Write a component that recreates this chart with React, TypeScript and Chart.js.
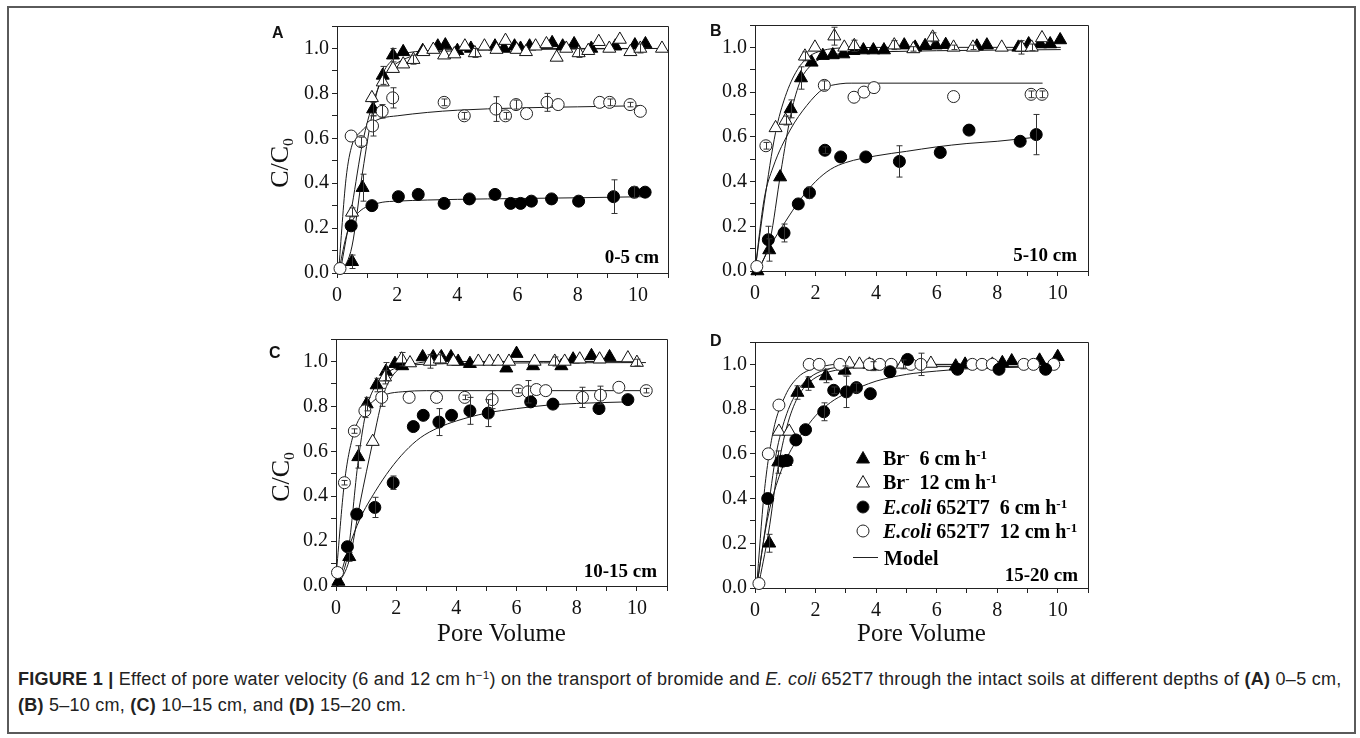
import React, { useEffect, useRef } from 'react';
import { Chart, registerables } from 'chart.js';

Chart.register(...registerables);

// ---------------- DATA ----------------
// Panel A (0-5 cm)
const A_br6_x = [0.5, 0.85, 1.2, 1.52, 1.86, 2.2, 2.85, 3.35, 3.6, 4.0, 4.45, 5.25, 5.55, 5.9, 6.1, 6.4, 7.15, 7.5, 7.88, 8.45, 9.25, 9.9, 10.25];
const A_br6_y = [0.05, 0.38, 0.73, 0.88, 0.97, 0.985, 0.99, 1.01, 1.015, 0.99, 1.0, 1.01, 1.0, 1.01, 1.0, 1.01, 1.025, 1.01, 1.02, 1.0, 1.01, 1.015, 1.02];
const A_br6_e = [0.03, 0.06, 0.03, 0.04, 0.03];
const A_br12_x = [0.5, 1.16, 1.52, 1.86, 2.2, 2.54, 2.87, 3.2, 3.56, 3.9, 4.25, 4.58, 4.9, 5.3, 5.6, 5.97, 6.28, 6.6, 6.96, 7.3, 7.62, 8.03, 8.35, 8.7, 9.05, 9.4, 9.75, 10.08, 10.8];
const A_br12_y = [0.27, 0.78, 0.85, 0.91, 0.93, 0.95, 0.985, 0.995, 0.97, 0.975, 1.01, 0.98, 1.01, 0.995, 1.035, 0.995, 0.985, 1.01, 1.02, 0.96, 1.0, 0.98, 0.99, 1.03, 1.0, 1.04, 0.985, 1.0, 1.0];
const A_br12_e = [0.02, 0, 0, 0, 0, 0.02, 0, 0, 0, 0, 0, 0.02, 0, 0, 0, 0, 0, 0, 0, 0, 0, 0.02, 0, 0, 0, 0, 0, 0.02, 0];
const A_ec12_x = [0.1, 0.47, 0.8, 1.18, 1.5, 1.85, 3.56, 4.23, 5.28, 5.6, 5.95, 6.3, 6.98, 7.35, 8.73, 9.06, 9.74, 10.08];
const A_ec12_y = [0.02, 0.61, 0.585, 0.655, 0.72, 0.78, 0.76, 0.7, 0.73, 0.7, 0.75, 0.71, 0.76, 0.75, 0.76, 0.76, 0.75, 0.72];
const A_ec12_e = [0, 0, 0.02, 0.045, 0.03, 0.045, 0.015, 0.015, 0.055, 0.015, 0.02, 0, 0.04, 0, 0, 0.015, 0.01, 0];
const A_ec6_x = [0.47, 1.16, 2.04, 2.7, 3.56, 4.4, 5.25, 5.77, 6.1, 6.46, 7.13, 8.03, 9.19, 9.88, 10.24];
const A_ec6_y = [0.21, 0.3, 0.34, 0.35, 0.31, 0.33, 0.35, 0.31, 0.31, 0.32, 0.33, 0.32, 0.34, 0.36, 0.36];
const A_ec6_e = [0, 0, 0, 0, 0, 0, 0, 0, 0, 0, 0, 0, 0.075, 0.025, 0];
const A_mBr6_x = [0.15, 0.5, 0.85, 1.2, 1.5, 1.85, 2.2, 3, 4, 6, 10.8];
const A_mBr6_y = [0, 0.12, 0.45, 0.73, 0.88, 0.95, 0.975, 0.99, 0.995, 1.0, 1.0];
const A_mBr12_x = [0.1, 0.5, 0.85, 1.2, 1.5, 1.85, 2.2, 2.6, 3, 4, 6, 10.8];
const A_mBr12_y = [0, 0.3, 0.58, 0.76, 0.86, 0.92, 0.95, 0.97, 0.98, 0.99, 0.995, 1.0];
const A_mEc12_x = [0.05, 0.3, 0.5, 0.8, 1.1, 1.5, 2, 3, 4, 6, 8, 10.1];
const A_mEc12_y = [0, 0.42, 0.57, 0.63, 0.665, 0.69, 0.7, 0.715, 0.725, 0.735, 0.74, 0.745];
const A_mEc6_x = [0.05, 0.3, 0.5, 0.8, 1.1, 1.5, 2, 3, 5, 8, 10.3];
const A_mEc6_y = [0, 0.16, 0.23, 0.28, 0.3, 0.315, 0.32, 0.325, 0.33, 0.335, 0.34];

// Panel B (5-10 cm)
const B_br6_x = [0.08, 0.47, 0.83, 1.18, 1.52, 1.87, 2.24, 2.57, 2.92, 3.25, 3.58, 3.91, 4.26, 4.93, 5.29, 5.62, 5.97, 6.3, 7.33, 7.66, 8.7, 9.04, 9.42, 9.75, 10.08];
const B_br6_y = [0, 0.094, 0.42, 0.725, 0.863, 0.933, 0.963, 0.966, 0.97, 0.985, 0.988, 0.988, 0.988, 1.01, 1.0, 1.007, 1.01, 1.012, 1.005, 1.01, 1.0, 1.015, 1.015, 1.015, 1.033];
const B_br6_e = [0, 0.05, 0, 0.04, 0.05];
const B_br12_x = [0.68, 1.01, 1.65, 1.98, 2.62, 2.95, 3.28, 4.6, 5.23, 5.87, 6.56, 7.2, 8.15, 8.8, 9.14, 9.48];
const B_br12_y = [0.64, 0.673, 0.96, 1.0, 1.05, 1.0, 1.007, 1.01, 0.993, 1.045, 1.0, 1.0, 1.0, 1.0, 1.0, 1.042];
const B_br12_e = [0, 0.02, 0.02, 0, 0.04, 0, 0.025, 0.02, 0.01, 0.02, 0.01, 0.01, 0, 0.03, 0.015, 0];
const B_ec12_x = [0.06, 0.36, 2.29, 3.27, 3.6, 3.93, 6.56, 9.12, 9.48];
const B_ec12_y = [0.02, 0.56, 0.83, 0.777, 0.8, 0.82, 0.78, 0.79, 0.79];
const B_ec12_e = [0, 0.015, 0.02, 0, 0, 0, 0, 0.015, 0.015];
const B_ec6_x = [0.44, 0.96, 1.43, 1.8, 2.31, 2.83, 3.66, 4.77, 6.12, 7.07, 8.76, 9.29];
const B_ec6_y = [0.14, 0.17, 0.3, 0.35, 0.54, 0.51, 0.51, 0.49, 0.53, 0.63, 0.58, 0.61];
const B_ec6_e = [0.06, 0.04, 0, 0.025, 0.015, 0, 0, 0.07, 0, 0, 0, 0.09];
const B_mBr6_x = [0.1, 0.5, 0.85, 1.2, 1.5, 1.85, 2.2, 3, 4, 6, 10.1];
const B_mBr6_y = [0, 0.14, 0.44, 0.71, 0.85, 0.92, 0.95, 0.975, 0.98, 0.985, 0.99];
const B_mBr12_x = [0, 0.3, 0.68, 1.0, 1.4, 1.8, 2.2, 3, 5, 10.1];
const B_mBr12_y = [0, 0.3, 0.62, 0.78, 0.9, 0.96, 0.985, 0.998, 1.0, 1.0];
const B_mEc12_x = [0, 0.3, 0.6, 1.16, 1.71, 2.26, 2.81, 3.2, 9.5];
const B_mEc12_y = [0, 0.32, 0.465, 0.63, 0.74, 0.815, 0.837, 0.84, 0.84];
const B_mEc6_x = [0.1, 0.5, 1, 1.5, 2, 2.5, 3, 4, 5, 6, 7, 8, 9.4];
const B_mEc6_y = [0, 0.11, 0.22, 0.32, 0.4, 0.455, 0.485, 0.515, 0.535, 0.555, 0.57, 0.58, 0.6];

// Panel C (10-15 cm)
const C_br6_x = [0.08, 0.44, 0.74, 1.02, 1.35, 1.66, 1.96, 2.2, 2.88, 3.23, 3.5, 3.82, 4.06, 4.45, 5.66, 6.0, 6.55, 7.49, 7.88, 8.49, 9.09];
const C_br6_y = [0.02, 0.13, 0.575, 0.81, 0.895, 0.955, 0.99, 0.98, 1.02, 1.02, 1.02, 1.02, 1.0, 0.99, 0.97, 1.035, 0.98, 0.98, 1.01, 1.025, 1.02];
const C_br6_e = [0, 0.02, 0.05, 0.03, 0.03, 0.04];
const C_br12_x = [1.22, 1.63, 2.18, 2.46, 3.12, 3.45, 3.9, 4.73, 5.1, 5.39, 5.75, 6.6, 7.27, 7.6, 8.1, 8.76, 9.7, 10.0];
const C_br12_y = [0.643, 0.93, 1.01, 0.993, 1.0, 1.01, 1.0, 1.0, 1.0, 1.0, 1.0, 1.0, 1.0, 1.0, 1.01, 1.01, 1.015, 0.995];
const C_br12_e = [0, 0.03, 0.03, 0, 0.03, 0.02, 0, 0, 0, 0, 0, 0, 0.02, 0, 0, 0, 0, 0.015];
const C_ec12_x = [0.05, 0.28, 0.61, 0.96, 1.52, 2.43, 3.34, 4.28, 5.19, 6.05, 6.38, 6.66, 6.97, 8.19, 8.79, 9.4, 10.31];
const C_ec12_y = [0.06, 0.46, 0.69, 0.78, 0.84, 0.84, 0.84, 0.84, 0.83, 0.87, 0.865, 0.875, 0.87, 0.84, 0.85, 0.885, 0.87];
const C_ec12_e = [0, 0.01, 0.01, 0.03, 0.04, 0, 0, 0.01, 0.04, 0.01, 0.05, 0, 0, 0.045, 0.04, 0, 0.01];
const C_ec6_x = [0.38, 0.69, 1.29, 1.9, 2.57, 2.9, 3.42, 3.84, 4.45, 5.06, 6.47, 7.21, 8.74, 9.7];
const C_ec6_y = [0.175, 0.32, 0.35, 0.46, 0.71, 0.76, 0.73, 0.76, 0.78, 0.77, 0.82, 0.81, 0.79, 0.83];
const C_ec6_e = [0, 0, 0.045, 0.03, 0, 0, 0.06, 0, 0.06, 0.06, 0, 0, 0, 0];
const C_mBr6_x = [0.05, 0.4, 0.74, 1.02, 1.35, 1.7, 2.1, 2.6, 3.5, 10.3];
const C_mBr6_y = [0, 0.15, 0.56, 0.79, 0.9, 0.95, 0.975, 0.985, 0.99, 0.995];
const C_mBr12_x = [0.05, 0.45, 0.8, 1.22, 1.6, 1.9, 2.2, 2.6, 3.2, 10.1];
const C_mBr12_y = [0, 0.12, 0.37, 0.64, 0.86, 0.94, 0.975, 0.99, 1.0, 1.0];
const C_mEc12_x = [0, 0.28, 0.61, 0.96, 1.3, 1.7, 2.2, 3, 10.3];
const C_mEc12_y = [0.04, 0.46, 0.69, 0.78, 0.83, 0.855, 0.865, 0.87, 0.87];
const C_mEc6_x = [0.05, 0.4, 0.8, 1.3, 1.8, 2.3, 2.8, 3.4, 4, 5, 6, 7, 8, 9.7];
const C_mEc6_y = [0, 0.16, 0.3, 0.42, 0.52, 0.6, 0.66, 0.705, 0.735, 0.77, 0.79, 0.805, 0.813, 0.82];

// Panel D (15-20 cm)
const D_br6_x = [0.47, 0.77, 1.0, 1.4, 1.75, 2.34, 2.96, 3.89, 6.63, 6.94, 8.17, 8.48, 9.4, 10.0];
const D_br6_y = [0.2, 0.563, 0.565, 0.874, 0.914, 0.948, 0.973, 0.992, 0.992, 1.0, 1.007, 1.015, 1.018, 1.034];
const D_br6_e = [0.04, 0.05, 0, 0.03, 0.03, 0.03, 0.02, 0.02];
const D_br12_x = [0.79, 1.13, 3.12, 3.45, 3.78, 4.88, 5.81, 7.84];
const D_br12_y = [0.7, 0.7, 1.004, 1.0, 1.0, 1.0, 1.004, 1.0];
const D_br12_e = [0, 0, 0, 0, 0, 0.02, 0, 0];
const D_ec12_x = [0.13, 0.44, 0.79, 1.79, 2.12, 2.8, 3.78, 4.12, 4.5, 5.15, 5.48, 7.18, 7.5, 7.84, 8.88, 9.2, 9.87];
const D_ec12_y = [0.02, 0.6, 0.818, 1.0, 1.0, 1.0, 1.0, 1.0, 1.0, 1.0, 1.0, 1.0, 1.0, 1.0, 1.0, 1.0, 1.0];
const D_ec12_e = [0, 0, 0, 0, 0, 0, 0, 0, 0, 0, 0.05];
const D_ec6_x = [0.42, 0.91, 1.06, 1.35, 1.67, 2.27, 2.6, 3.02, 3.35, 3.81, 4.46, 5.04, 6.69, 8.06, 9.6];
const D_ec6_y = [0.4, 0.567, 0.57, 0.662, 0.708, 0.788, 0.884, 0.877, 0.896, 0.869, 0.967, 1.022, 0.978, 0.978, 0.978];
const D_ec6_e = [0, 0, 0, 0, 0, 0.04, 0.015, 0.07, 0.02];
const D_mBr6_x = [0.1, 0.45, 0.75, 1.05, 1.4, 1.8, 2.3, 3, 4, 10.0];
const D_mBr6_y = [0, 0.25, 0.53, 0.72, 0.85, 0.92, 0.96, 0.98, 0.99, 0.99];
const D_mBr12_x = [0.05, 0.4, 0.7, 1.0, 1.4, 1.8, 2.3, 3, 4, 10.0];
const D_mBr12_y = [0, 0.32, 0.6, 0.76, 0.88, 0.94, 0.975, 0.99, 0.995, 1.0];
const D_mEc12_x = [0.05, 0.3, 0.6, 1.0, 1.4, 1.8, 2.2, 2.7, 3.5, 10.0];
const D_mEc12_y = [0, 0.42, 0.7, 0.86, 0.94, 0.975, 0.99, 1.0, 1.0, 1.0];
const D_mEc6_x = [0.05, 0.4, 0.8, 1.2, 1.6, 2.0, 2.5, 3.0, 3.5, 4.0, 5.0, 6.0, 7.0, 8.0, 10.0];
const D_mEc6_y = [0, 0.3, 0.5, 0.62, 0.7, 0.77, 0.83, 0.87, 0.9, 0.925, 0.955, 0.97, 0.98, 0.985, 0.99];

// Axis ticks
const X_MIN = 0, X_MAX = 11, X_STEP = 1;
const Y_MIN = 0, Y_MAX = 1.1, Y_STEP = 0.1;

const PANEL_LETTERS = ['A', 'B', 'C', 'D'];
const DEPTHS = ['0-5 cm', '5-10 cm', '10-15 cm', '15-20 cm'];

// ---------------- STYLE / LAYOUT ----------------
const SERIF = "'Liberation Serif', 'Times New Roman', serif";
const SANS = "'Liberation Sans', Arial, sans-serif";
const YW = 80, PT = 20, PR = 14, XH = 40;

Chart.defaults.font.family = SERIF;

type Kind = 'br6' | 'br12' | 'ec6' | 'ec12';
interface Ser { x: number[]; y: number[]; e: number[]; kind: Kind }
interface Mod { x: number[]; y: number[] }
interface Panel { L: number; T: number; R: number; B: number; series: Ser[]; models: Mod[] }

const PANELS: Panel[] = [
  {
    L: 337, T: 26, R: 668, B: 273,
    models: [
      { x: A_mBr6_x, y: A_mBr6_y }, { x: A_mBr12_x, y: A_mBr12_y },
      { x: A_mEc12_x, y: A_mEc12_y }, { x: A_mEc6_x, y: A_mEc6_y },
    ],
    series: [
      { x: A_ec6_x, y: A_ec6_y, e: A_ec6_e, kind: 'ec6' },
      { x: A_ec12_x, y: A_ec12_y, e: A_ec12_e, kind: 'ec12' },
      { x: A_br12_x, y: A_br12_y, e: A_br12_e, kind: 'br12' },
      { x: A_br6_x, y: A_br6_y, e: A_br6_e, kind: 'br6' },
    ],
  },
  {
    L: 755, T: 25, R: 1088, B: 271,
    models: [
      { x: B_mBr6_x, y: B_mBr6_y }, { x: B_mBr12_x, y: B_mBr12_y },
      { x: B_mEc12_x, y: B_mEc12_y }, { x: B_mEc6_x, y: B_mEc6_y },
    ],
    series: [
      { x: B_ec6_x, y: B_ec6_y, e: B_ec6_e, kind: 'ec6' },
      { x: B_ec12_x, y: B_ec12_y, e: B_ec12_e, kind: 'ec12' },
      { x: B_br12_x, y: B_br12_y, e: B_br12_e, kind: 'br12' },
      { x: B_br6_x, y: B_br6_y, e: B_br6_e, kind: 'br6' },
    ],
  },
  {
    L: 336, T: 339, R: 667, B: 586,
    models: [
      { x: C_mBr6_x, y: C_mBr6_y }, { x: C_mBr12_x, y: C_mBr12_y },
      { x: C_mEc12_x, y: C_mEc12_y }, { x: C_mEc6_x, y: C_mEc6_y },
    ],
    series: [
      { x: C_ec6_x, y: C_ec6_y, e: C_ec6_e, kind: 'ec6' },
      { x: C_ec12_x, y: C_ec12_y, e: C_ec12_e, kind: 'ec12' },
      { x: C_br12_x, y: C_br12_y, e: C_br12_e, kind: 'br12' },
      { x: C_br6_x, y: C_br6_y, e: C_br6_e, kind: 'br6' },
    ],
  },
  {
    L: 755, T: 342, R: 1088, B: 588,
    models: [
      { x: D_mBr6_x, y: D_mBr6_y }, { x: D_mBr12_x, y: D_mBr12_y },
      { x: D_mEc12_x, y: D_mEc12_y }, { x: D_mEc6_x, y: D_mEc6_y },
    ],
    series: [
      { x: D_ec6_x, y: D_ec6_y, e: D_ec6_e, kind: 'ec6' },
      { x: D_ec12_x, y: D_ec12_y, e: D_ec12_e, kind: 'ec12' },
      { x: D_br12_x, y: D_br12_y, e: D_br12_e, kind: 'br12' },
      { x: D_br6_x, y: D_br6_y, e: D_br6_e, kind: 'br6' },
    ],
  },
];

const MARKER: Record<Kind, any> = {
  br6: { pointStyle: 'triangle', pointRadius: 7.5, pointBackgroundColor: '#000', pointBorderColor: '#000' },
  br12: { pointStyle: 'triangle', pointRadius: 7.5, pointBackgroundColor: '#fff', pointBorderColor: '#111' },
  ec6: { pointStyle: 'circle', pointRadius: 6, pointBackgroundColor: '#000', pointBorderColor: '#000' },
  ec12: { pointStyle: 'circle', pointRadius: 6, pointBackgroundColor: '#fff', pointBorderColor: '#222' },
};

const toPts = (xs: number[], ys: number[]) => xs.map((x, i) => ({ x, y: ys[i] }));

const framePlugin = {
  id: 'frame',
  afterDraw(chart: any) {
    const { ctx, chartArea } = chart;
    const { left, top, right, bottom } = chartArea;
    ctx.save();
    ctx.strokeStyle = '#222';
    ctx.lineWidth = 1;
    ctx.beginPath();
    ctx.moveTo(left, Math.round(top) + 0.5);
    ctx.lineTo(Math.round(right) + 0.5, Math.round(top) + 0.5);
    ctx.lineTo(Math.round(right) + 0.5, bottom);
    ctx.stroke();
    ctx.restore();
  },
};

const errPlugin = {
  id: 'errbars',
  afterDatasetsDraw(chart: any) {
    const { ctx } = chart;
    const xs = chart.scales.x, ys = chart.scales.y;
    ctx.save();
    ctx.strokeStyle = '#333';
    ctx.lineWidth = 1;
    chart.data.datasets.forEach((ds: any) => {
      if (!ds.errs) return;
      ds.data.forEach((p: any, i: number) => {
        const e = ds.errs[i] ?? 0;
        if (!e) return;
        const px = Math.round(xs.getPixelForValue(p.x)) + 0.5;
        const y1 = ys.getPixelForValue(p.y + e);
        const y2 = ys.getPixelForValue(p.y - e);
        ctx.beginPath();
        ctx.moveTo(px, y1); ctx.lineTo(px, y2);
        ctx.moveTo(px - 3, y1); ctx.lineTo(px + 3, y1);
        ctx.moveTo(px - 3, y2); ctx.lineTo(px + 3, y2);
        ctx.stroke();
      });
    });
    ctx.restore();
  },
};

function PanelChart({ p }: { p: Panel }) {
  const ref = useRef<HTMLCanvasElement | null>(null);
  const CL = p.L - YW, CT = p.T - PT;
  const CW = p.R - p.L + YW + PR, CH = p.B - p.T + PT + XH;
  useEffect(() => {
    if (!ref.current) return;
    const datasets: any[] = [];
    p.series.forEach((s) => {
      datasets.push({
        data: toPts(s.x, s.y),
        showLine: false,
        pointBorderWidth: 1,
        clip: false,
        order: 0,
        errs: s.e,
        ...MARKER[s.kind],
      });
    });
    p.models.forEach((m) => {
      datasets.push({
        data: toPts(m.x, m.y),
        showLine: true,
        pointRadius: 0,
        borderColor: '#1a1a1a',
        borderWidth: 1,
        cubicInterpolationMode: 'monotone',
        fill: false,
        clip: false,
        order: 1,
      });
    });
    const tickFont = { family: 'Liberation Serif', size: 20, weight: 'normal' };
    const chart = new Chart(ref.current, {
      type: 'scatter',
      data: { datasets },
      plugins: [framePlugin, errPlugin],
      options: {
        responsive: false,
        animation: false,
        devicePixelRatio: 1,
        layout: { padding: { top: PT, right: PR, left: 0, bottom: 0 } },
        plugins: { legend: { display: false }, tooltip: { enabled: false }, title: { display: false } },
        scales: {
          x: {
            type: 'linear', min: X_MIN, max: X_MAX, position: 'bottom',
            ticks: {
              stepSize: X_STEP, autoSkip: false, maxRotation: 0, padding: 6, color: '#111', font: tickFont,
              callback: (v: any) => (Math.round(v) % 2 === 0 ? String(Math.round(v)) : ''),
            },
            grid: { display: true, drawOnChartArea: false, drawTicks: true, tickLength: 5, color: '#222', lineWidth: 1 },
            border: { display: true, color: '#222', width: 1 },
            afterFit: (s: any) => { s.height = XH; },
          },
          y: {
            type: 'linear', min: Y_MIN, max: Y_MAX, position: 'left',
            ticks: {
              stepSize: Y_STEP, autoSkip: false, padding: 3, color: '#111', font: tickFont,
              callback: (v: any) => {
                const k = Math.round(v * 10);
                return k % 2 === 0 && k <= 10 ? (k / 10).toFixed(1) : '';
              },
            },
            grid: { display: true, drawOnChartArea: false, drawTicks: true, tickLength: 5, color: '#222', lineWidth: 1 },
            border: { display: true, color: '#222', width: 1 },
            afterFit: (s: any) => { s.width = YW; },
          },
        },
      } as any,
    } as any);
    return () => chart.destroy();
  }, [p]);
  return (
    <canvas
      ref={ref}
      width={CW}
      height={CH}
      style={{ position: 'absolute', left: CL, top: CT, width: CW, height: CH }}
    />
  );
}

const abs = (s: React.CSSProperties): React.CSSProperties => ({ position: 'absolute', whiteSpace: 'nowrap', ...s });
const supStyle: React.CSSProperties = { fontSize: '0.65em', verticalAlign: 'baseline', position: 'relative', top: '-0.5em', lineHeight: 0 };

function Tri({ filled }: { filled: boolean }) {
  return (
    <svg width="16" height="16" style={{ display: 'block' }}>
      <polygon points="8,1.5 14.5,13 1.5,13" fill={filled ? '#000' : '#fff'} stroke="#111" strokeWidth="1" />
    </svg>
  );
}
function Circ({ filled }: { filled: boolean }) {
  return (
    <svg width="16" height="16" style={{ display: 'block' }}>
      <circle cx="8" cy="8" r="6" fill={filled ? '#000' : '#fff'} stroke="#222" strokeWidth="1" />
    </svg>
  );
}

export default function App() {
  const letterPos = [[272, 23], [710, 21], [269, 343], [710, 331]];
  const depthPos = [[659, 257], [1077, 255], [657, 571], [1078, 575]];
  const legendRows = [
    { y: 458, icon: <Tri filled />, text: <span>Br<sup style={supStyle}>-</sup>&nbsp; 6 cm h<sup style={supStyle}>-1</sup></span> },
    { y: 482, icon: <Tri filled={false} />, text: <span>Br<sup style={supStyle}>-</sup>&nbsp; 12 cm h<sup style={supStyle}>-1</sup></span> },
    { y: 507, icon: <Circ filled />, text: <span><i>E.coli</i> 652T7&nbsp; 6 cm h<sup style={supStyle}>-1</sup></span> },
    { y: 531, icon: <Circ filled={false} />, text: <span><i>E.coli</i> 652T7&nbsp; 12 cm h<sup style={supStyle}>-1</sup></span> },
  ];
  const capFont = `18px ${SANS}`;
  return (
    <div style={{ position: 'absolute', left: 0, top: 0, width: 1360, height: 738, overflow: 'hidden', background: '#fff' }}>
      <div style={{ position: 'absolute', left: 7, top: 6, width: 1349, height: 728, border: '2px solid #5a5a5a', boxSizing: 'border-box' }} />
      {PANELS.map((p, i) => <PanelChart key={i} p={p} />)}
      {PANEL_LETTERS.map((l, i) => (
        <div key={l} style={abs({ left: letterPos[i][0], top: letterPos[i][1], font: `bold 16px ${SANS}`, color: '#111', lineHeight: '20px' })}>{l}</div>
      ))}
      {DEPTHS.map((d, i) => (
        <div key={d} style={abs({ left: depthPos[i][0] - 200, width: 200, top: depthPos[i][1] - 12, textAlign: 'right', font: `bold 19px ${SERIF}`, lineHeight: '24px', color: '#000' })}>{d}</div>
      ))}
      {[[281, 163], [282, 477]].map(([cx, cy], i) => (
        <div key={'yt' + i} style={abs({ left: cx, top: cy, transform: 'translate(-50%, -50%) rotate(-90deg)', font: `26px ${SERIF}`, lineHeight: '30px', color: '#111' })}>
          C/C<sub style={{ fontSize: '0.6em', verticalAlign: 'baseline', position: 'relative', top: '0.35em' }}>0</sub>
        </div>
      ))}
      {[501.5, 921.5].map((cx, i) => (
        <div key={'xt' + i} style={abs({ left: cx - 100, width: 200, top: 618, textAlign: 'center', font: `25px ${SERIF}`, lineHeight: '30px', color: '#111' })}>Pore Volume</div>
      ))}
      {legendRows.map((r, i) => (
        <React.Fragment key={'lg' + i}>
          <div style={abs({ left: 855, top: r.y - 8 })}>{r.icon}</div>
          <div style={abs({ left: 883, top: r.y - 12, font: `bold 20px ${SERIF}`, lineHeight: '24px', color: '#000' })}>{r.text}</div>
        </React.Fragment>
      ))}
      <div style={abs({ left: 853, top: 557, width: 25, height: 1, background: '#222' })} />
      <div style={abs({ left: 884, top: 546, font: `bold 20px ${SERIF}`, lineHeight: '24px', color: '#000' })}>Model</div>
      <div style={abs({ left: 18, top: 668, font: capFont, letterSpacing: '0.25px', lineHeight: '22px', color: '#222' })}>
        <b>FIGURE 1 |</b> Effect of pore water velocity (6 and 12 cm h<sup style={supStyle}>−1</sup>) on the transport of bromide and <i>E. coli</i> 652T7 through the intact soils at different depths of <b>(A)</b> 0–5 cm,
      </div>
      <div style={abs({ left: 18, top: 694, font: capFont, letterSpacing: '0.25px', lineHeight: '22px', color: '#222' })}>
        <b>(B)</b> 5–10 cm, <b>(C)</b> 10–15 cm, and <b>(D)</b> 15–20 cm.
      </div>
    </div>
  );
}
